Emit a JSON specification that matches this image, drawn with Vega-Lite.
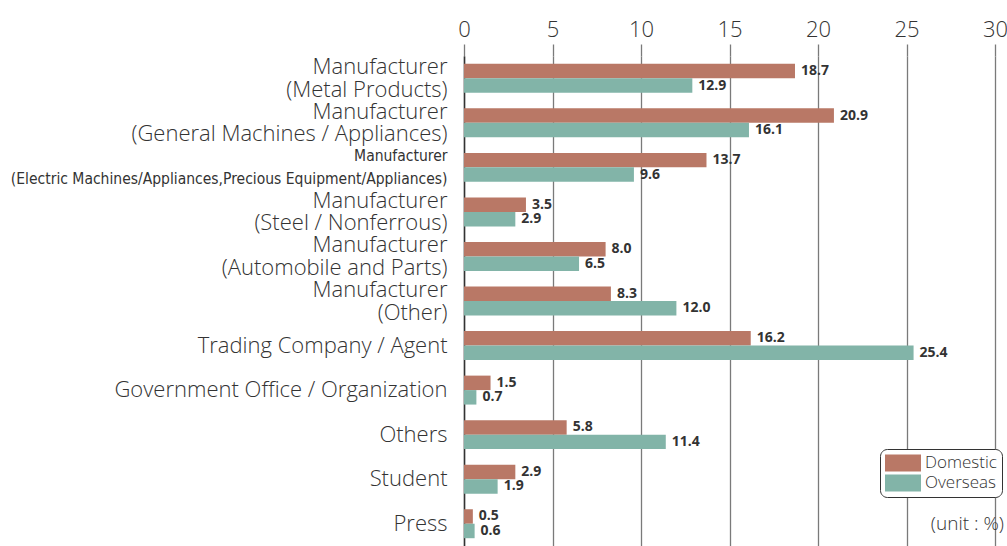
{
  "$schema": "https://vega.github.io/schema/vega-lite/v6.json",
  "width": 531,
  "height": 490,
  "autosize": {"type": "none"},
  "padding": {"left": 464, "top": 56, "right": 12, "bottom": 0},
  "background": "white",
  "config": {"view": {"stroke": null}, "font": "Open Sans"},
  "data": {"values": [
    {"category": "Manufacturer\n(Metal Products)", "group": "Domestic", "value": 18.7},
    {"category": "Manufacturer\n(Metal Products)", "group": "Overseas", "value": 12.9},
    {"category": "Manufacturer\n(General Machines / Appliances)", "group": "Domestic", "value": 20.9},
    {"category": "Manufacturer\n(General Machines / Appliances)", "group": "Overseas", "value": 16.1},
    {"category": "Manufacturer\n(Electric Machines/Appliances,Precious Equipment/Appliances)", "group": "Domestic", "value": 13.7},
    {"category": "Manufacturer\n(Electric Machines/Appliances,Precious Equipment/Appliances)", "group": "Overseas", "value": 9.6},
    {"category": "Manufacturer\n(Steel / Nonferrous)", "group": "Domestic", "value": 3.5},
    {"category": "Manufacturer\n(Steel / Nonferrous)", "group": "Overseas", "value": 2.9},
    {"category": "Manufacturer\n(Automobile and Parts)", "group": "Domestic", "value": 8.0},
    {"category": "Manufacturer\n(Automobile and Parts)", "group": "Overseas", "value": 6.5},
    {"category": "Manufacturer\n(Other)", "group": "Domestic", "value": 8.3},
    {"category": "Manufacturer\n(Other)", "group": "Overseas", "value": 12.0},
    {"category": "Trading Company / Agent", "group": "Domestic", "value": 16.2},
    {"category": "Trading Company / Agent", "group": "Overseas", "value": 25.4},
    {"category": "Government Office / Organization", "group": "Domestic", "value": 1.5},
    {"category": "Government Office / Organization", "group": "Overseas", "value": 0.7},
    {"category": "Others", "group": "Domestic", "value": 5.8},
    {"category": "Others", "group": "Overseas", "value": 11.4},
    {"category": "Student", "group": "Domestic", "value": 2.9},
    {"category": "Student", "group": "Overseas", "value": 1.9},
    {"category": "Press", "group": "Domestic", "value": 0.5},
    {"category": "Press", "group": "Overseas", "value": 0.6}
  ]},
  "encoding": {
    "y": {
      "field": "category", "type": "nominal", "sort": null,
      "scale": {"paddingInner": 0.35, "paddingOuter": 0.175},
      "axis": {
        "title": null, "ticks": false, "labelPadding": 17, "labelLimit": 0,
        "labelExpr": "split(datum.label, '\\n')",
        "labelLineHeight": 22.5,
        "labelOffset": {"condition": {"test": "indexof(datum.label, 'Manufacturer') >= 0", "value": -11}, "value": 0},
        "labelFontSize": {"condition": {"test": "indexof(datum.label, 'Electric') >= 0", "value": 15.5}, "value": 22},
        "labelFont": {"condition": {"test": "indexof(datum.label, 'Electric') >= 0", "value": "'DejaVu Sans Condensed', 'Open Sans'"}, "value": "Open Sans"},
        "labelFontWeight": 300,
        "labelColor": "#333333",
        "domainColor": "#333333", "domainWidth": 1.5
      }
    }
  },
  "layer": [
    {
      "mark": {"type": "bar"},
      "encoding": {
        "x": {
          "field": "value", "type": "quantitative",
          "scale": {"domain": [0, 30], "nice": false},
          "axis": {
            "orient": "top", "title": null, "values": [0, 5, 10, 15, 20, 25, 30],
            "grid": true, "gridColor": "#7a7a7a", "gridWidth": 1.3,
            "tickColor": "#7a7a7a", "tickWidth": 1.3, "tickSize": 12,
            "domain": false, "labelFontSize": 22, "labelFontWeight": 300,
            "labelColor": "#333333", "labelPadding": 3, "labelFlush": false
          }
        },
        "yOffset": {"field": "group", "type": "nominal", "scale": {"paddingInner": 0, "paddingOuter": 0}},
        "color": {
          "field": "group", "type": "nominal",
          "scale": {"domain": ["Domestic", "Overseas"], "range": ["#B97866", "#82B4A8"]},
          "legend": {
            "title": null, "orient": "none", "legendX": 416, "legendY": 393,
            "padding": 5, "strokeColor": "#333333", "cornerRadius": 7, "fillColor": "white",
            "symbolType": "M-1,-0.94H3V0.94H-1Z", "symbolSize": 324, "symbolStrokeWidth": 0,
            "symbolOpacity": 1,
            "labelFontSize": 17, "labelFontWeight": 300, "labelColor": "#333333",
            "labelOffset": 22, "rowPadding": 2
          }
        }
      }
    },
    {
      "mark": {"type": "text", "align": "left", "baseline": "middle", "dx": 6, "fontSize": 14, "fontWeight": "bold", "color": "#333333"},
      "encoding": {
        "x": {"field": "value", "type": "quantitative"},
        "yOffset": {"field": "group", "type": "nominal"},
        "text": {"field": "value", "type": "quantitative", "format": ".1f"}
      }
    },
    {
      "data": {"values": [{"category": "Press", "note": "(unit : %)", "pos": 30}]},
      "mark": {"type": "text", "align": "right", "baseline": "middle", "dx": 9, "fontSize": 19, "fontWeight": 300, "color": "#333333"},
      "encoding": {
        "x": {"field": "pos", "type": "quantitative"},
        "text": {"field": "note"}
      }
    }
  ]
}
